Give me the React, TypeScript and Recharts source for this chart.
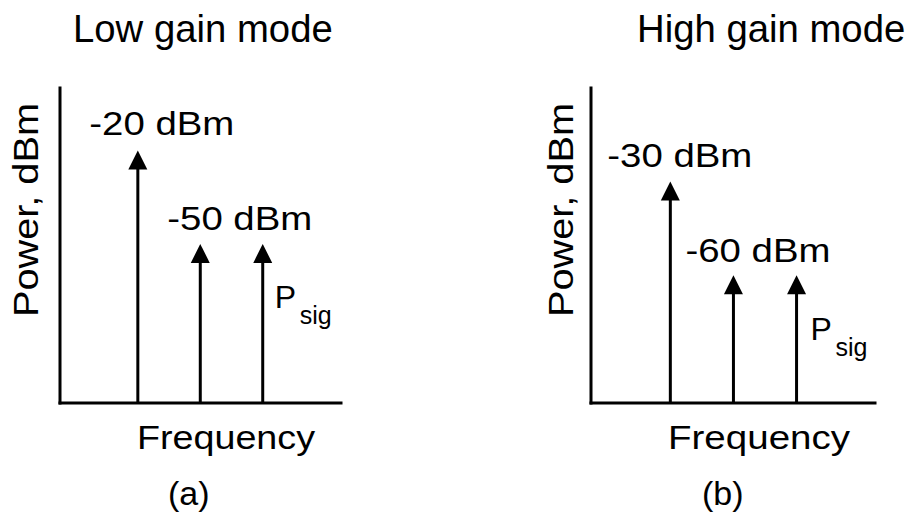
import React from 'react';
import { ComposedChart, Bar, XAxis, YAxis, LabelList } from 'recharts';

// Tone frequencies (arbitrary units) and power levels in dBm
const FREQS = [1.25, 2.25, 3.25];
const LOW_GAIN_POWER = [-20, -50, -50];
const HIGH_GAIN_POWER = [-30, -60, -60];
const LOW_GAIN_LABELS = ['-20 dBm', '-50 dBm', 'P|sig'];
const HIGH_GAIN_LABELS = ['-30 dBm', '-60 dBm', 'P|sig'];

const FLOOR = -101;
const FONT = '"Liberation Sans", Arial, sans-serif';

const buildRows = (powers: number[], labels: string[]) =>
  FREQS.map((f, i) => ({ freq: f, power: powers[i], range: [FLOOR, powers[i]], label: labels[i] }));

// Arrow from the floor up to the value
const Arrow = (props: any) => {
  const { x, y, width, height } = props;
  const cx = x + width / 2;
  const bottom = y + height;
  return (
    <g>
      <line x1={cx} y1={bottom} x2={cx} y2={y + 17} stroke="#000" strokeWidth={3} />
      <polygon points={`${cx},${y} ${cx - 9.5},${y + 19} ${cx + 9.5},${y + 19}`} fill="#000" />
    </g>
  );
};

interface PanelProps {
  rows: ReturnType<typeof buildRows>;
  margin: { top: number; left: number; right: number; bottom: number };
  labelOffsets: [number, number][];
  title: string;
  titleX: number;
  caption: string;
  captionX: number;
  freqX: number;
  freqLen: number;
  powerX: number;
}

const axisStyle = { stroke: '#000', strokeWidth: 3, strokeLinecap: 'square' as const };

const Panel: React.FC<PanelProps> = ({ rows, margin, labelOffsets, title, titleX, caption, captionX, freqX, freqLen, powerX }) => {
  const renderLabel = (p: any) => {
    const vb = p.viewBox ?? p;
    const cx = vb.x + vb.width / 2;
    const tip = vb.y;
    const [dx, dy] = labelOffsets[p.index];
    const value = String(p.value);
    if (value.includes('|')) {
      const [main, sub] = value.split('|');
      return (
        <g fontFamily={FONT} fill="#000">
          <text x={cx + dx} y={tip + dy} fontSize={32}>{main}</text>
          <text x={cx + dx + 25} y={tip + dy + 16} fontSize={25}>{sub}</text>
        </g>
      );
    }
    return (
      <text x={cx + dx} y={tip + dy} fontSize={33} fontFamily={FONT} fill="#000" textLength={145} lengthAdjust="spacingAndGlyphs">
        {value}
      </text>
    );
  };

  return (
    <ComposedChart width={456} height={519} data={rows} margin={margin}>
      <XAxis
        dataKey="freq"
        type="number"
        domain={[0, 4.5]}
        tick={false}
        tickLine={false}
        height={1}
        axisLine={axisStyle}
      />
      <YAxis
        type="number"
        domain={[FLOOR, 0]}
        allowDataOverflow
        tick={false}
        tickLine={false}
        width={1}
        axisLine={axisStyle}
      />
      <Bar dataKey="range" barSize={20} shape={<Arrow />} isAnimationActive={false}>
        <LabelList dataKey="label" content={renderLabel} />
      </Bar>
      <text x={titleX} y={42} fontSize={38.3} fontFamily={FONT} fill="#000">{title}</text>
      <text
        x={powerX}
        y={210}
        fontSize={35}
        fontFamily={FONT}
        fill="#000"
        textAnchor="middle"
        textLength={214}
        lengthAdjust="spacingAndGlyphs"
        transform={`rotate(-90 ${powerX} 210)`}
      >
        Power, dBm
      </text>
      <text x={freqX} y={449} fontSize={34} fontFamily={FONT} fill="#000" textLength={freqLen} lengthAdjust="spacingAndGlyphs">
        Frequency
      </text>
      <text x={captionX} y={505} fontSize={34} fontFamily={FONT} fill="#000">{caption}</text>
    </ComposedChart>
  );
};

export default function App() {
  return (
    <div style={{ position: 'absolute', left: 0, top: 0, width: 912, height: 519, background: '#fff', display: 'flex' }}>
      <Panel
        rows={buildRows(LOW_GAIN_POWER, LOW_GAIN_LABELS)}
        margin={{ top: 88, left: 59, right: 115, bottom: 115 }}
        labelOffsets={[[-48.5, -15], [-33, -14], [12, 64]]}
        title="Low gain mode"
        titleX={73}
        caption="(a)"
        captionX={168}
        freqX={137}
        freqLen={178}
        powerX={38}
      />
      <Panel
        rows={buildRows(HIGH_GAIN_POWER, HIGH_GAIN_LABELS)}
        margin={{ top: 88, left: 134, right: 37, bottom: 115 }}
        labelOffsets={[[-63, -15], [-48, -13], [14, 65]]}
        title="High gain mode"
        titleX={181}
        caption="(b)"
        captionX={246}
        freqX={212}
        freqLen={182}
        powerX={117}
      />
    </div>
  );
}
